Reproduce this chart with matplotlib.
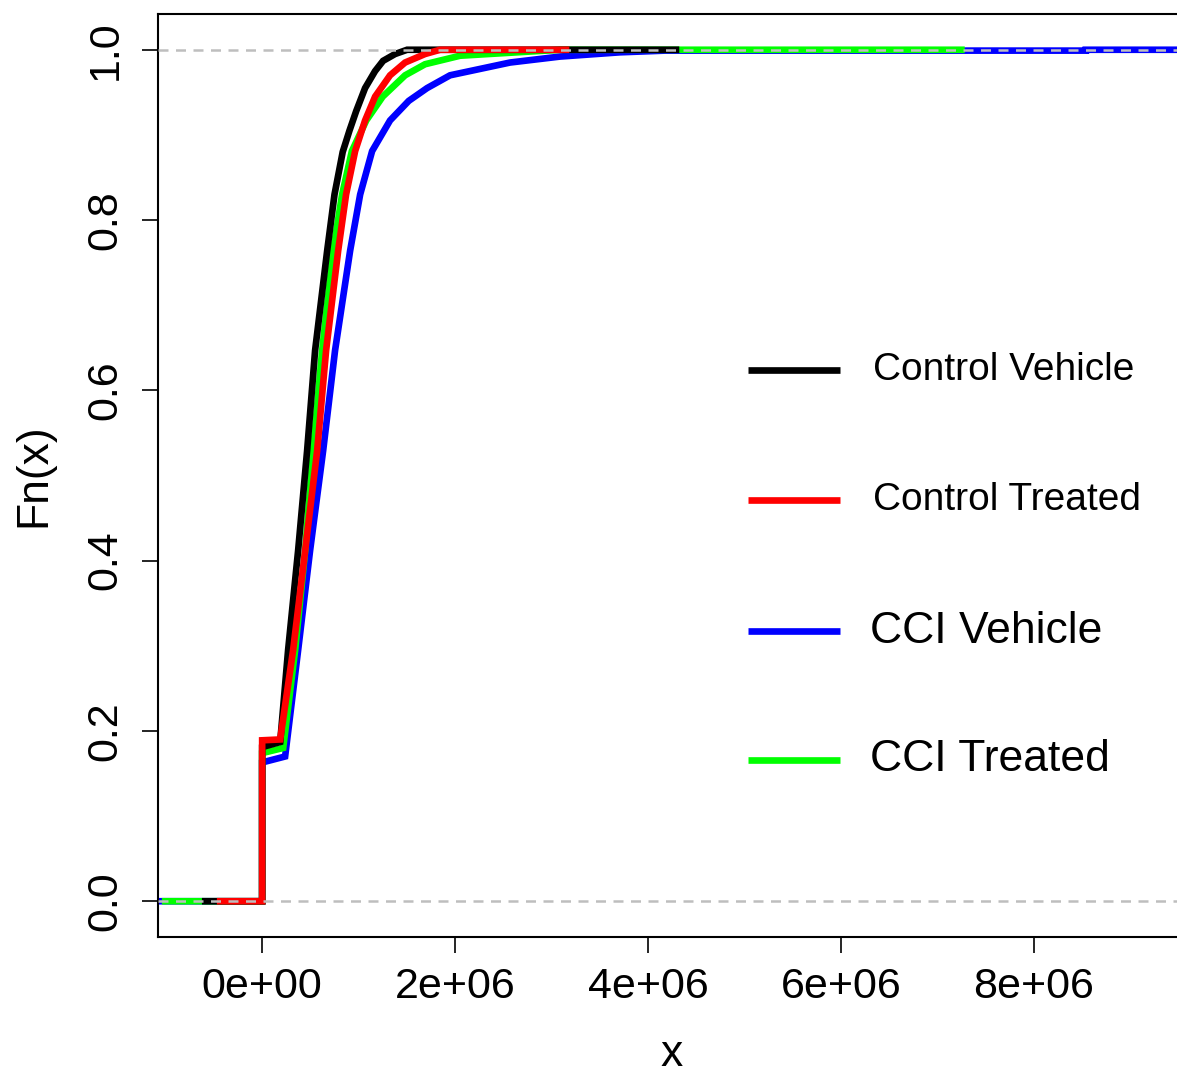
import matplotlib
matplotlib.use("Agg")
import matplotlib.pyplot as plt
import numpy as np
from matplotlib.ticker import FuncFormatter

plt.rcParams["font.family"] = ["Liberation Sans", "DejaVu Sans"]

# ECDF curves (x in units of 1e6)
labels = ["Control Vehicle", "Control Treated", "CCI Vehicle", "CCI Treated"]
colors = ["#000000", "#FF0000", "#0000FF", "#00FF00"]

x_ctrl_veh = [-0.59, 0.0, 0.0, 0.187, 0.269, 0.373, 0.466, 0.549, 0.674, 0.750, 0.835,
              0.905, 0.975, 1.067, 1.171, 1.254, 1.378, 1.503, 4.29]
f_ctrl_veh = [0.0, 0.0, 0.181, 0.187, 0.295, 0.412, 0.529, 0.647, 0.764, 0.830, 0.880,
              0.905, 0.928, 0.955, 0.975, 0.987, 0.995, 1.0, 1.0]

x_ctrl_trt = [-0.435, 0.0, 0.0, 0.187, 0.321, 0.446, 0.570, 0.663, 0.788, 0.870, 0.964,
              1.067, 1.171, 1.326, 1.482, 1.689, 1.845, 3.15]
f_ctrl_trt = [0.0, 0.0, 0.189, 0.190, 0.295, 0.412, 0.529, 0.647, 0.764, 0.830, 0.881,
              0.917, 0.945, 0.970, 0.985, 0.995, 1.0, 1.0]

x_cci_veh = [-1.2, 0.0, 0.0, 0.238, 0.373, 0.497, 0.632, 0.756, 0.912, 1.016, 1.140,
             1.326, 1.520, 1.710, 1.948, 2.570, 3.088, 3.710, 4.176, 8.54, 8.54, 10.0]
f_cci_veh = [0.0, 0.0, 0.163, 0.170, 0.295, 0.412, 0.529, 0.647, 0.764, 0.830, 0.881,
             0.917, 0.940, 0.955, 0.970, 0.985, 0.992, 0.997, 0.999, 0.999, 1.0, 1.0]

x_cci_trt = [-1.005, 0.0, 0.0, 0.218, 0.342, 0.446, 0.528, 0.622, 0.736, 0.829, 0.930,
             1.080, 1.250, 1.482, 1.689, 2.052, 3.088, 7.25]
f_cci_trt = [0.0, 0.0, 0.174, 0.180, 0.295, 0.412, 0.529, 0.647, 0.764, 0.830, 0.881,
             0.917, 0.945, 0.970, 0.983, 0.993, 1.0, 1.0]

xticks = [0, 2e6, 4e6, 6e6, 8e6]
yticks = [0.0, 0.2, 0.4, 0.6, 0.8, 1.0]

fig = plt.figure(figsize=(11.77, 10.78), dpi=100)
ax = fig.add_axes([158 / 1177, 141 / 1078, 1032 / 1177, 923 / 1078])

# drawing order like the R script: CCI Vehicle first, Control Treated last
curves = [(x_cci_veh, f_cci_veh, colors[2]),
          (x_cci_trt, f_cci_trt, colors[3]),
          (x_ctrl_veh, f_ctrl_veh, colors[0]),
          (x_ctrl_trt, f_ctrl_trt, colors[1])]
for xs, fs, c in curves:
    ax.plot(np.array(xs) * 1e6, fs, color=c, lw=4.8, solid_joinstyle="miter")

for h in [0, 1]:
    ax.axhline(h, color="#BEBEBE", lw=1.8, dashes=(4, 3), zorder=5)

ax.set_xlim(-1.08e6, 9.62e6)
ax.set_ylim(-0.042, 1.042)
ax.set_xticks(xticks)
ax.set_yticks(yticks)
ax.xaxis.set_major_formatter(FuncFormatter(lambda v, p: f"{v:.0e}"))
ax.yaxis.set_major_formatter(FuncFormatter(lambda v, p: f"{v:.1f}"))
ax.tick_params(axis="both", length=11.5, width=1.2, labelsize=31)
ax.tick_params(axis="x", pad=10)
ax.tick_params(axis="y", pad=12, labelrotation=90)
for t in ax.get_yticklabels():
    t.set_va("center")
for s in ax.spines.values():
    s.set_linewidth(1.5)

ax.set_xlabel("x", fontsize=32)
ax.set_ylabel("Fn(x)", fontsize=32)
ax.xaxis.set_label_coords(0.498, -0.105)
ax.yaxis.set_label_coords(-0.1, 0.5)

# legend drawn by hand (the entries use two different text sizes)
leg_y = [0.6143, 0.4735, 0.3315, 0.1918]
leg_x = [0.6928, 0.6928, 0.6899, 0.6899]
leg_size = [28, 28, 32, 32]
for lab, c, y, lx, fs in zip(labels, colors, leg_y, leg_x, leg_size):
    ax.plot([0.5717, 0.6609], [y, y], color=c, lw=4.8, transform=ax.transAxes,
            solid_capstyle="butt")
    ax.text(lx, y, lab, fontsize=fs, va="center", ha="left", transform=ax.transAxes)

fig.savefig("out.png", dpi=100)
